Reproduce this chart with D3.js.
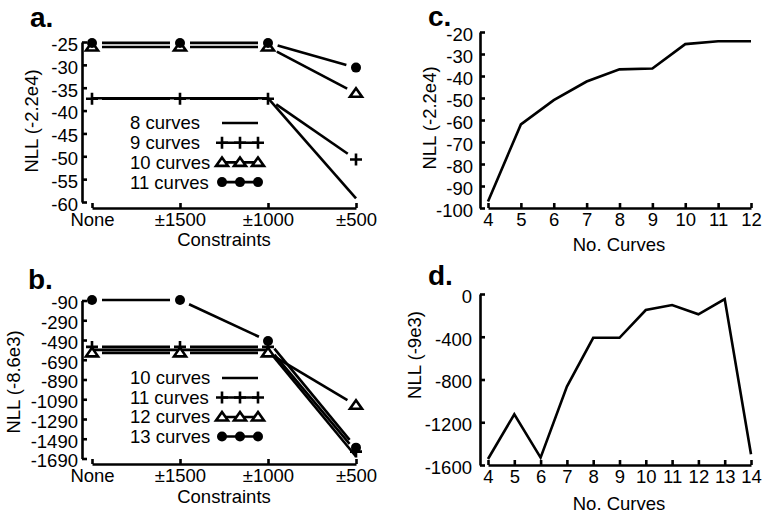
<!DOCTYPE html>
<html><head><meta charset="utf-8">
<script src="https://cdn.jsdelivr.net/npm/d3@7"></script>
<style>
body{margin:0;background:#fff}
text{font-family:"Liberation Sans",Arial,Helvetica,sans-serif;fill:#000}
</style>
</head><body><svg id="chart" width="764" height="515"></svg>
<script>
// ---------- data ----------
const constraints = ["None", "±1500", "±1000", "±500"];

const aNames = ["8 curves", "9 curves", "10 curves", "11 curves"];
const aMarkers = ["none", "plus", "triangle", "circle"];
const a8 = [-37.3, -37.3, -37.3, -59.2];
const a9 = [-37.4, -37.4, -37.4, -50.7];
const a10 = [-26.1, -26.1, -26.1, -36.2];
const a11 = [-25.2, -25.2, -25.2, -30.6];
const aTicks = [-25, -30, -35, -40, -45, -50, -55, -60];

const bNames = ["10 curves", "11 curves", "12 curves", "13 curves"];
const bMarkers = ["none", "plus", "triangle", "circle"];
const b10 = [-590, -590, -590, -1670];
const b11 = [-560, -560, -560, -1620];
const b12 = [-620, -620, -620, -1150];
const b13 = [-85, -85, -500, -1580];
const bTicks = [-90, -290, -490, -690, -890, -1090, -1290, -1490, -1690];

const cCurves = [4, 5, 6, 7, 8, 9, 10, 11, 12];
const cNLL = [-97, -62, -51, -42.5, -37, -36.6, -25.5, -24.2, -24.2];
const cTicks = [-20, -30, -40, -50, -60, -70, -80, -90, -100];

const dCurves = [4, 5, 6, 7, 8, 9, 10, 11, 12, 13, 14];
const dNLL = [-1544, -1126, -1531, -867, -410, -410, -150, -103, -190, -47, -1500];
const dTicks = [0, -400, -800, -1200, -1600];

// ---------- drawing ----------
const svg = d3.select("#chart");
const LW = 2.6;
const FS = 18.5;

function yAxis(g, y, ticks, x0, pad) {
  const ax = g.append("g").attr("transform", `translate(${x0},0)`)
    .call(d3.axisLeft(y).tickValues(ticks).tickSize(-5).tickSizeOuter(0).tickPadding(pad));
  ax.select(".domain").attr("stroke-width", LW).attr("stroke", "#000");
  ax.selectAll(".tick line").attr("stroke-width", LW).attr("stroke", "#000");
  ax.selectAll(".tick text").attr("font-size", FS).attr("dy", "0.45em")
    .text(d => String(d));
  ax.attr("font-family", null);
}
function xAxis(g, x, y0, ticks) {
  const a = d3.axisBottom(x).tickSize(-5).tickSizeOuter(0).tickPadding(5);
  if (ticks) a.tickValues(ticks).tickFormat(d => String(d));
  const ax = g.append("g").attr("transform", `translate(0,${y0})`).call(a);
  ax.select(".domain").attr("stroke-width", LW).attr("stroke", "#000");
  ax.selectAll(".tick line").attr("stroke-width", LW).attr("stroke", "#000");
  ax.selectAll(".tick text").attr("font-size", FS);
  ax.attr("font-family", null);
}
function marker(g, type, cx, cy) {
  if (type === "circle") {
    g.append("circle").attr("cx", cx).attr("cy", cy).attr("r", 5).attr("fill", "#000");
  } else if (type === "plus") {
    g.append("path").attr("d", `M${cx - 6},${cy}H${cx + 6}M${cx},${cy - 6}V${cy + 6}`)
      .attr("stroke", "#000").attr("stroke-width", LW).attr("fill", "none");
  } else if (type === "triangle") {
    g.append("path").attr("d", `M${cx},${cy - 5}L${cx + 6},${cy + 3.5}L${cx - 6},${cy + 3.5}Z`)
      .attr("stroke", "#000").attr("stroke-width", LW).attr("fill", "#fff").attr("stroke-linejoin", "miter");
  }
}
function gappedSeries(g, pts, type, gap) {
  for (let i = 0; i < pts.length - 1; i++) {
    const [x1, y1] = pts[i], [x2, y2] = pts[i + 1];
    const dx = x2 - x1, dy = y2 - y1, L = Math.hypot(dx, dy);
    const gg = type === "none" ? 0 : gap;
    if (L <= 2 * gg) continue;
    const ux = dx / L, uy = dy / L;
    g.append("line")
      .attr("x1", x1 + ux * gg).attr("y1", y1 + uy * gg)
      .attr("x2", x2 - ux * gg).attr("y2", y2 - uy * gg)
      .attr("stroke", "#000").attr("stroke-width", LW);
  }
  if (type !== "none") pts.forEach(p => marker(g, type, p[0], p[1]));
}
function legend(g, names, types, x0, y0, dy) {
  names.forEach((n, i) => {
    const yy = y0 + i * dy;
    g.append("text").attr("x", x0).attr("y", yy).attr("dy", "0.35em").attr("font-size", FS).text(n);
    g.append("line").attr("x1", 222).attr("x2", 258).attr("y1", yy).attr("y2", yy)
      .attr("stroke", "#000").attr("stroke-width", LW);
    if (types[i] !== "none") [222, 240, 258].forEach(px => marker(g, types[i], px, yy));
  });
}
function label(g, txt, x, y, size, bold, rot) {
  const t = g.append("text").attr("font-size", size).attr("text-anchor", bold ? "start" : "middle").text(txt);
  if (bold) t.attr("font-weight", "bold");
  if (rot) t.attr("transform", `translate(${x},${y}) rotate(-90)`).attr("dy", "0.35em");
  else t.attr("x", x).attr("y", y);
}

// Panel a
{
  const g = svg.append("g");
  const x = d3.scalePoint().domain(constraints).range([92, 356]);
  const y = d3.scaleLinear().domain([-60, -25]).range([202, 42]);
  yAxis(g, y, aTicks, 82, 4);
  xAxis(g, x, 208);
  const series = [a8, a9, a10, a11];
  series.forEach((s, i) => gappedSeries(g, s.map((v, j) => [x(constraints[j]), y(v)]), aMarkers[i], 10));
  legend(g, aNames, aMarkers, 130, 123, 19.7);
  label(g, "Constraints", 224, 246, FS);
  label(g, "NLL (-2.2e4)", 32, 121, FS, false, true);
  label(g, "a.", 30, 27, 28, true);
}
// Panel b
{
  const g = svg.append("g");
  const x = d3.scalePoint().domain(constraints).range([92, 356]);
  const y = d3.scaleLinear().domain([-1690, -90]).range([458.5, 300.5]);
  yAxis(g, y, bTicks, 82, 4);
  xAxis(g, x, 464);
  const series = [b10, b11, b12, b13];
  series.forEach((s, i) => gappedSeries(g, s.map((v, j) => [x(constraints[j]), y(v)]), bMarkers[i], 10));
  legend(g, bNames, bMarkers, 130, 378, 19.5);
  label(g, "Constraints", 224, 503, FS);
  label(g, "NLL (-8.6e3)", 14, 382, FS, false, true);
  label(g, "b.", 28, 289, 28, true);
}
// Panel c
{
  const g = svg.append("g");
  const x = d3.scaleLinear().domain([4, 12]).range([488, 751]);
  const y = d3.scaleLinear().domain([-100, -20]).range([208, 32]);
  yAxis(g, y, cTicks, 480, 7);
  xAxis(g, x, 208, cCurves);
  g.append("path").datum(cCurves.map((c, i) => [x(c), y(cNLL[i])]))
    .attr("d", d3.line()).attr("fill", "none").attr("stroke", "#000").attr("stroke-width", LW);
  label(g, "No. Curves", 619, 251, FS);
  label(g, "NLL (-2.2e4)", 430, 118, FS, false, true);
  label(g, "c.", 428, 26, 28, true);
}
// Panel d
{
  const g = svg.append("g");
  const x = d3.scaleLinear().domain([4, 14]).range([488, 751]);
  const y = d3.scaleLinear().domain([-1600, 0]).range([465, 294]);
  yAxis(g, y, dTicks, 480, 8);
  xAxis(g, x, 465, dCurves);
  g.append("path").datum(dCurves.map((c, i) => [x(c), y(dNLL[i])]))
    .attr("d", d3.line()).attr("fill", "none").attr("stroke", "#000").attr("stroke-width", LW);
  label(g, "No. Curves", 619, 510, FS);
  label(g, "NLL (-9e3)", 415, 355, FS, false, true);
  label(g, "d.", 428, 285, 28, true);
}
</script>
</body></html>
